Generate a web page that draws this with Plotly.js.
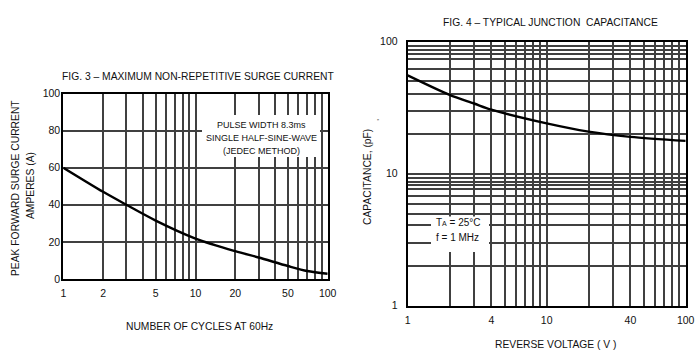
<!DOCTYPE html>
<html><head><meta charset="utf-8">
<script src="https://cdn.plot.ly/plotly-3.0.1.min.js"></script>
<style>html,body{margin:0;padding:0;background:#fff}#chart{width:700px;height:364px}</style>
</head><body><div id="chart"></div>
<script>
// ---- data ----
const cycles = [1, 2, 3, 5, 10, 20, 30, 50, 70, 100];
const surgeCurrent = [60, 47, 40, 31.5, 21.8, 15, 11.6, 7, 4.3, 2.8];
const reverseVoltage = [1, 2, 3, 4, 10, 20, 40, 100];
const capacitance = [55.5, 39.5, 34, 30.5, 24, 20.8, 19, 17.7];
const logGridVals = [1,2,3,4,5,6,7,8,9,10,20,30,40,50,60,70,80,90,100];
const fig3XLabels = ['1','2','','','5','','','','','10','20','','','50','','','','','100'];
const fig4XLabels = ['1','','','4','','','','','','10','','','40','','','','','','100'];
const fig3YVals = [0,20,40,60,80,100];
const fig3YLabels = ['0','20','40','60','80','100'];
const fig4YVals = [1,2,3,4.05,4.9,5.9,6.8,7.7,8.15,8.7,9.3,10,20,30,40,50.5,62,74,80.5,86.5,92,100];
const fig4YLabels = fig4YVals.map(v => (v===1||v===10||v===100) ? String(v) : '');

// ---- layout helpers ----
const W = 700, H = 364;
const px = x => x / W;
const py = y => 1 - y / H;
const FONT = 'Liberation Sans, Arial, sans-serif';
const INK = '#111';

const axisCommon = {
  showline: true, mirror: true, linecolor: '#000', linewidth: 2,
  showgrid: true, gridcolor: '#404040', gridwidth: 2,
  zeroline: false, ticks: '', fixedrange: true,
  tickfont: {family: FONT, size: 10.5, color: INK},
  tickmode: 'array'
};

const traces = [
  {x: cycles, y: surgeCurrent, xaxis: 'x', yaxis: 'y', type: 'scatter', mode: 'lines',
   line: {color: '#000', width: 2.4, shape: 'spline', smoothing: 0.8}, hoverinfo: 'skip'},
  {x: reverseVoltage, y: capacitance, xaxis: 'x2', yaxis: 'y2', type: 'scatter', mode: 'lines',
   line: {color: '#000', width: 2.4, shape: 'spline', smoothing: 0.8}, hoverinfo: 'skip'}
];

const ann = (text, x, y, opts) => Object.assign({
  text, x: px(x), y: py(y), xref: 'paper', yref: 'paper', showarrow: false,
  xanchor: 'center', yanchor: 'middle', font: {family: FONT, size: 10.3, color: INK}
}, opts || {});

const layout = {
  width: W, height: H, margin: {l: 0, r: 0, t: 0, b: 0},
  paper_bgcolor: '#fff', plot_bgcolor: '#fff', showlegend: false,
  xaxis: Object.assign({}, axisCommon, {type: 'log', range: [0, 2], domain: [px(63.3), px(327.7)],
    anchor: 'y', tickvals: logGridVals, ticktext: fig3XLabels, ticklabelstandoff: 3}),
  yaxis: Object.assign({}, axisCommon, {range: [0, 100], domain: [py(279), py(93.5)],
    anchor: 'x', tickvals: fig3YVals, ticktext: fig3YLabels, ticklabelstandoff: -1}),
  xaxis2: Object.assign({}, axisCommon, {type: 'log', range: [0, 2], domain: [px(407.7), px(685.7)],
    anchor: 'y2', tickvals: logGridVals, ticktext: fig4XLabels, ticklabelstandoff: 4}),
  yaxis2: Object.assign({}, axisCommon, {type: 'log', range: [0, 2], domain: [py(305.5), py(41.7)],
    anchor: 'x2', tickvals: fig4YVals, ticktext: fig4YLabels, ticklabelstandoff: 6}),
  shapes: [
    {type: 'rect', xref: 'paper', yref: 'paper', x0: px(202), x1: px(320), y0: py(157), y1: py(115),
     fillcolor: '#fff', line: {width: 0}, layer: 'above'},
    {type: 'rect', xref: 'paper', yref: 'paper', x0: px(431), x1: px(489), y0: py(252), y1: py(216.5),
     fillcolor: '#fff', line: {width: 0}, layer: 'above'}
  ],
  annotations: [
    ann('FIG. 3 – MAXIMUM NON-REPETITIVE SURGE CURRENT', 197.5, 76.7),
    ann('FIG. 4 – TYPICAL JUNCTION  CAPACITANCE', 550, 22.3),
    ann('NUMBER OF CYCLES AT 60Hz', 199.7, 326.7),
    ann('REVERSE VOLTAGE ( V )', 556, 344),
    ann('PEAK FORWARD SURGE CURRENT', 15, 188, {textangle: -90}),
    ann('AMPERES (A)', 30, 186, {textangle: -90}),
    ann('CAPACITANCE, (pF)', 367, 177, {textangle: -90}),
    ann(',', 376, 120, {textangle: -90, font: {family: FONT, size: 8, color: INK}}),
    ann('PULSE WIDTH 8.3ms', 261, 125, {font: {family: FONT, size: 9, color: INK}}),
    ann('SINGLE HALF-SINE-WAVE', 261, 138.3, {font: {family: FONT, size: 9, color: INK}}),
    ann('(JEDEC METHOD)', 261, 150.7, {font: {family: FONT, size: 9, color: INK}}),
    ann('T<span style="font-size:7px">A</span> = 25°C', 458, 222, {font: {family: FONT, size: 10, color: INK}}),
    ann('f = 1 MHz', 457.5, 237.5, {font: {family: FONT, size: 10, color: INK}})
  ]
};

Plotly.newPlot('chart', traces, layout, {staticPlot: true, displayModeBar: false});
</script>
</body></html>
